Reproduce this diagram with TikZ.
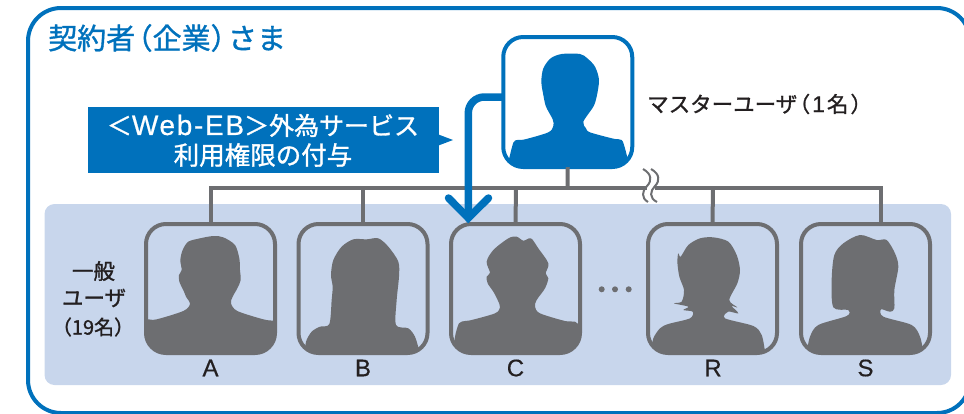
\documentclass[tikz,border=0pt]{standalone}
\usepackage{fontspec}
\setmainfont{Noto Sans CJK JP}
\newfontfamily\jpm[FakeBold=1.2]{Noto Sans CJK JP}
\newfontfamily\lat[FakeBold=0.4]{Liberation Sans}
\newfontfamily\latw[LetterSpace=6,FakeBold=0.6]{Liberation Sans}
\newcommand{\lpar}{\kern-.4em（}
\newcommand{\rpar}{）\kern-.4em}
\definecolor{ebblue}{HTML}{0071BC}
\definecolor{ebgray}{HTML}{6D6E71}
\definecolor{ebband}{HTML}{C8D6EC}
\definecolor{ebtext}{HTML}{231F20}
\tikzset{
  userbox/.style={draw=ebgray,line width=4pt,rounded corners=20pt,minimum width=129pt,minimum height=129pt,outer sep=0pt,inner sep=0pt},
  masterbox/.style={userbox,draw=ebblue},
  link/.style={draw=ebgray,line width=4pt},
  wave/.style={draw=ebgray,line width=2pt},
  grant/.style={draw=ebblue,line width=7.5pt},
  letter/.style={font=\fontsize{24}{24}\selectfont\lat,text=ebtext},
  note/.style={font=\fontsize{21.5}{21.5}\selectfont\jpm,text=ebtext},
  shp/.style={smooth,tension=0.5},
}
\begin{document}
\begin{tikzpicture}[x=1pt,y=-1pt]
\useasboundingbox (0,0) rectangle (964,413);
\clip (0,0) rectangle (964,413);
\draw[ebblue,line width=4pt,rounded corners=33pt] (28,8) rectangle (970,413);
\fill[ebband,rounded corners=10pt] (44.5,204) rectangle (951,385);
% tree
\coordinate (ax) at (210.5,188);
\coordinate (bx) at (363,188);
\coordinate (cx) at (516,188);
\coordinate (mx) at (567.5,188);
\coordinate (rx) at (713,188);
\coordinate (sx) at (880.5,188);
\node[userbox] (A) at (210.5,288.5) {};
\node[userbox] (B) at (363,288.5) {};
\node[userbox] (C) at (515.5,288.5) {};
\node[userbox] (R) at (712.5,288.5) {};
\node[userbox] (S) at (865.5,288.5) {};
\node[masterbox,minimum height=130pt] (M) at (567.75,102) {};
\coordinate (sdrop) at (880.5,222);
\draw[link] (A.north) -- (ax) -- (sx) -- (sdrop);
\draw[link] (B.north) -- (bx);
\draw[link] (C.north) -- (cx);
\draw[link] (R.north) -- (rx);
\draw[link] (M.south) -- (mx);
% break mark
\fill[white] (646.5,185) rectangle (654.5,191);
\draw[wave] (643,169) .. controls (652,174) and (652,181) .. (647,186) .. controls (642,191) and (641,198) .. (648,202);
\draw[wave] (651,169) .. controls (660,174) and (660,181) .. (655,186) .. controls (650,191) and (649,198) .. (657,202);
% silhouettes
\begin{scope}
\clip[rounded corners=20pt] (M.south west) rectangle (M.north east);
\begin{scope}[shift={(480,0)},x=0.33333pt,y=-0.33333pt]
\fill[ebblue] plot[shp] coordinates {(86,482)(100,428)(112,420)(135,418)(205,397)(220,378)(218,358)(198,320)(190,285)(184,245)(190,205)(212,175)(245,162)(300,162)(322,175)(345,200)(357,240)(350,290)(340,320)(310,365)(318,385)(330,397)(400,416)(425,420)(435,445)(444,482)} -- (444,515) -- (86,515) -- cycle;
\end{scope}
\end{scope}
\begin{scope}
\clip[rounded corners=20pt] (A.south west) rectangle (A.north east);
\begin{scope}[shift={(0,200)},x=0.33333pt,y=-0.33333pt]
\fill[ebgray] plot[shp] coordinates {(430,360)(445,358)(470,358)(550,333)(570,312)(558,290)(552,275)(538,245)(537,225)(545,210)(541,180)(548,150)(565,125)(600,115)(640,108)(670,112)(705,135)(718,175)(720,210)(722,240)(712,265)(698,290)(693,310)(712,333)(790,358)(822,362)(835,362)} -- (835,470) -- (430,470) -- cycle;
\end{scope}
\end{scope}
\begin{scope}
\clip[rounded corners=20pt] (B.south west) rectangle (B.north east);
\begin{scope}[shift={(0,200)},x=0.33333pt,y=-0.33333pt]
\fill[ebgray] plot[shp] coordinates {(915,462)(918,425)(935,395)(960,380)(988,372)(995,300)(998,260)(993,225)(1000,180)(1025,140)(1060,118)(1100,118)(1135,115)(1165,140)(1195,185)(1197,230)(1190,300)(1188,375)(1225,385)(1245,410)(1257,450)} -- (1257,470) -- (915,470) -- cycle;
\end{scope}
\end{scope}
\begin{scope}
\clip[rounded corners=20pt] (C.south west) rectangle (C.north east);
\begin{scope}[shift={(445,220)},x=0.33333pt,y=-0.33333pt]
\fill[ebgray] plot[shp] coordinates {(25,400)(30,350)(42,310)(60,303)(80,300)(150,280)(165,262)(158,240)(145,215)(128,190)(125,170)(135,158)(125,125)(145,90)(190,55)(215,50)(235,62)(258,55)(280,85)(310,130)(302,160)(310,175)(300,205)(275,240)(270,260)(285,280)(360,303)(390,305)(405,320)(420,350)} -- (420,410) -- (25,410) -- cycle;
\end{scope}
\end{scope}
\begin{scope}
\clip[rounded corners=20pt] (R.south west) rectangle (R.north east);
\begin{scope}[shift={(640,220)},x=0.33333pt,y=-0.33333pt]
\fill[ebgray] plot[shp] coordinates {(33,395)(40,355)(60,325)(85,312)(150,295)(158,275)(130,270)(145,260)(102,250)(125,245)(132,210)(118,170)(112,125)(115,100)(122,110)(145,75)(180,55)(220,52)(265,65)(290,105)(300,150)(292,190)(268,240)(292,262)(275,258)(295,280)(265,275)(255,295)(340,318)(365,345)(375,395)} -- (375,410) -- (33,410) -- cycle;
\end{scope}
\end{scope}
\begin{scope}
\clip[rounded corners=20pt] (S.south west) rectangle (S.north east);
\begin{scope}[shift={(795,220)},x=0.33333pt,y=-0.33333pt]
\fill[ebgray] plot[shp] coordinates {(35,400)(45,350)(70,315)(155,288)(160,270)(115,262)(110,180)(118,105)(145,70)(195,45)(245,60)(275,60)(300,100)(310,140)(298,210)(298,265)(285,275)(258,268)(265,290)(350,315)(375,350)(385,398)} -- (385,410) -- (35,410) -- cycle;
\end{scope}
\end{scope}
% callout
\node[fill=ebblue,minimum width=351pt,minimum height=66pt,inner sep=0pt,outer sep=0pt] (call) at (263,140) {};
\coordinate (calltip) at (453,140);
\fill[ebblue] ([yshift=5.5pt]call.east) -- (calltip) -- ([yshift=-5.5pt]call.east) -- cycle;
\node[text=white,font=\fontsize{25}{25}\selectfont\jpm,inner sep=0pt] (cl1) at (263,125.5) {＜{\fontsize{28}{28}\selectfont\latw Web-EB}＞外為サービス};
\node[text=white,font=\fontsize{25.5}{25.5}\selectfont\jpm,inner sep=0pt] (cl2) at (263,155) {利用権限の付与};
% grant arrow
\coordinate (tip) at (468.3,218);
\coordinate (cl) at (448.5,198);
\coordinate (cr) at (488.5,198);
\draw[grant,rounded corners=16pt] ([yshift=5pt]M.west) -- (468.3,97) -- (tip);
\draw[grant,line cap=round,line join=miter] (cl) -- (tip) -- (cr);
% dots
\fill[ebgray] (601.7,289.3) circle (3pt) (615,289.3) circle (3pt) (628.7,289.3) circle (3pt);
% labels
\node[font=\fontsize{29}{29}\selectfont\jpm,text=ebblue,inner sep=0pt,anchor=west] (title) at (48,38) {契約者\lpar 企業\rpar さま};
\node[note,inner sep=0pt,anchor=west] (mlabel) at (647,104) {マスターユーザ\lpar\kern2pt{\lat\fontsize{23}{23}\selectfont 1}\kern2pt 名\kern2pt\rpar};
\node[note,inner sep=0pt] (g1) at (93.5,271) {一般};
\node[note,inner sep=0pt] (g2) at (94,298) {ユーザ};
\node[note,inner sep=0pt,font=\fontsize{20}{20}\selectfont\jpm] (g3) at (93,327) {\lpar 19名\rpar};
\node[letter] (la) at (210.5,368) {A};
\node[letter] (lb) at (363,368) {B};
\node[letter] (lc) at (515.5,368) {C};
\node[letter] (lr) at (713,368) {R};
\node[letter] (ls) at (865.5,368) {S};
\end{tikzpicture}
\end{document}
